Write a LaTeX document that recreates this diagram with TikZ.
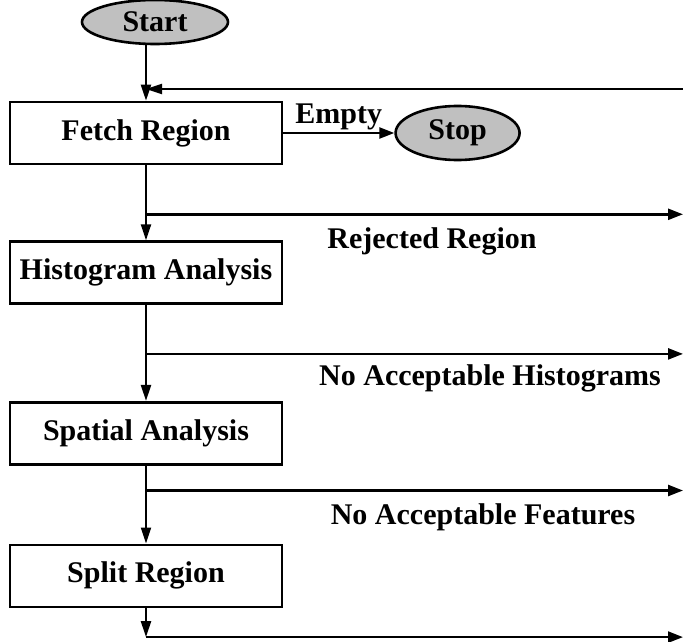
\documentclass[tikz,border=0pt]{standalone}
\usepackage{fontspec}
\setmainfont{Liberation Serif}
\usetikzlibrary{arrows.meta, positioning, shapes.geometric}
\definecolor{termgray}{RGB}{192,192,192}

\begin{document}
\begin{tikzpicture}[
  x=1pt, y=-1pt,
  stepbox/.style={
    rectangle, draw, line width=2.6pt,
    minimum width=272pt, minimum height=62pt,
    inner sep=0pt
  },
  terminal/.style={
    ellipse, draw, line width=2.6pt,
    fill=termgray, inner sep=0pt
  },
  flow/.style={line width=2.2pt,
    -{Triangle[length=16pt, width=10pt]}},
  exit/.style={line width=2.4pt,
    -{Triangle[length=15pt, width=11pt]}},
  every node/.style={font=\fontsize{30}{32}\selectfont\bfseries}
]
  \useasboundingbox (0,0) rectangle (683,642);

  % Processing steps, top down
  \node[stepbox] (fetch) at (146,133) {Fetch Region};
  \node[stepbox, below=75pt of fetch] (hist)  {Histogram Analysis};
  \node[stepbox, below=96pt of hist]  (spat)  {Spatial Analysis};
  \node[stepbox, below=78pt of spat]  (split) {Split Region};

  % Terminals
  \node[terminal, minimum width=146pt, minimum height=44pt]
        (start) at (155,22) {Start};
  \node[terminal, minimum width=124pt, minimum height=54pt,
        right=111pt of fetch] (stop) {Stop};

  % Loop back in from the right
  \coordinate (edge) at (683,89);
  \coordinate (loop) at (fetch.north |- edge);
  \draw[line width=2.2pt] (start.south -| fetch.north) -- (loop);
  \draw[flow] (edge) -- (loop);
  \draw[flow] (loop) -- (fetch);
  \draw[exit] (fetch) -- node[above=-2pt] (empty) {Empty} (stop);

  % Exits to the right
  \coordinate[below=49pt of fetch.south] (rej);
  \coordinate[below=49pt of hist.south]  (nohist);
  \coordinate[below=25pt of spat.south]  (nofeat);
  \coordinate[below=29pt of split.south] (out);

  \draw[flow] (fetch) -- (hist);
  \draw[flow] (hist) -- (spat);
  \draw[flow] (spat) -- (split);
  \draw[flow] (split) -- (out);

  \draw[exit] (rej) -- (rej -| edge);
  \draw[exit] (nohist) -- (nohist -| edge);
  \draw[exit] (nofeat) -- (nofeat -| edge);
  \draw[exit] (out) -- (out -| edge);

  \node (rejlbl)    at (432,241) {Rejected Region};
  \node (nohistlbl) at (490,378) {No Acceptable Histograms};
  \node (nofeatlbl) at (483,517) {No Acceptable Features};
\end{tikzpicture}
\end{document}
